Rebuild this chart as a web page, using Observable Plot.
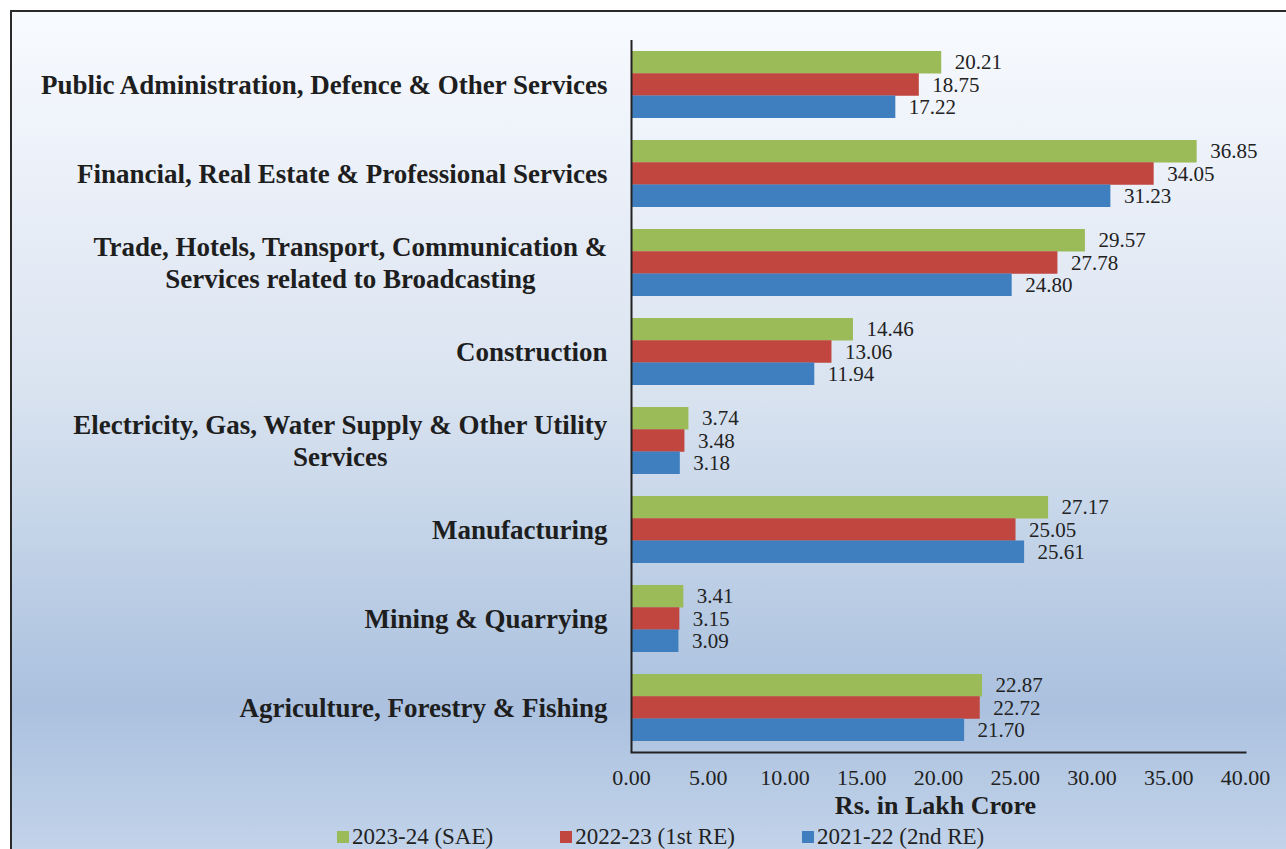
<!DOCTYPE html>
<html>
<head>
<meta charset="utf-8">
<script src="https://cdn.jsdelivr.net/npm/d3@7"></script>
<script src="https://cdn.jsdelivr.net/npm/@observablehq/plot@0.6"></script>
<style>
  html, body { margin: 0; padding: 0; background: #ffffff; }
  #frame {
    position: absolute; left: 10px; top: 10px;
    width: 1280px; height: 845px;
    border-left: 2px solid #2a2a2a; border-top: 2px solid #2a2a2a;
    background: linear-gradient(to bottom, #f8fbfe 0%, #eef2fa 15%, #d9e3f0 45%, #b9cce4 70%, #abc1df 82%, #c3d4ea 100%);
    overflow: hidden;
  }
  #chart svg { display: block; }
  #legend {
    position: absolute; left: 325px; top: 812px;
    font-family: "Liberation Serif", "Times New Roman", serif;
    font-size: 23px; color: #222; display: flex; gap: 67px; align-items: center;
  }
  #legend .item { display: flex; align-items: center; }
  #legend .sw { width: 12px; height: 12px; margin-right: 3px; }
</style>
</head>
<body>
<div id="frame">
  <div id="chart"></div>
  <div id="legend"></div>
</div>
<script>
const sectors = [
  "Public Administration, Defence & Other Services",
  "Financial, Real Estate & Professional Services",
  "Trade, Hotels, Transport, Communication &\nServices related to Broadcasting",
  "Construction",
  "Electricity, Gas, Water Supply & Other Utility\nServices",
  "Manufacturing",
  "Mining & Quarrying",
  "Agriculture, Forestry & Fishing"
];
const seriesNames = ["2023-24 (SAE)", "2022-23 (1st RE)", "2021-22 (2nd RE)"];
const seriesColors = ["#9bbb59", "#c0463f", "#3f7fc0"];
const v2023 = [20.21, 36.85, 29.57, 14.46, 3.74, 27.17, 3.41, 22.87];
const v2022 = [18.75, 34.05, 27.78, 13.06, 3.48, 25.05, 3.15, 22.72];
const v2021 = [17.22, 31.23, 24.80, 11.94, 3.18, 25.61, 3.09, 21.70];
const xTicks = [0, 5, 10, 15, 20, 25, 30, 35, 40];

const seriesValues = [v2023, v2022, v2021];
const rows = seriesValues.map((vals, s) => sectors.map((sector, i) => ({sector, value: vals[i], series: seriesNames[s]})));

const serif = "Liberation Serif, Times New Roman, serif";
const W = 1274, H = 815, mt = 28, mb = 75, ml = 619, mr = 41;
const paddingInner = 0.25, paddingOuter = 0.125;
const step = (H - mt - mb) / (sectors.length - paddingInner + 2 * paddingOuter);
const bw = step * (1 - paddingInner);
const third = bw / 3;

const marks = [];
rows.forEach((data, s) => {
  marks.push(Plot.barX(data, {
    x: "value", y: "sector", fill: seriesColors[s],
    insetTop: s * third, insetBottom: (2 - s) * third
  }));
  marks.push(Plot.text(data, {
    x: "value", y: "sector", text: d => d.value.toFixed(2),
    textAnchor: "start", dx: 13, dy: (s - 1) * third,
    fontSize: 21, fill: "#222", fontFamily: serif
  }));
});

const chart = Plot.plot({
  width: W, height: H,
  marginTop: mt, marginBottom: mb, marginLeft: ml, marginRight: mr,
  style: {background: "transparent", fontFamily: serif, overflow: "visible"},
  x: {domain: [0, 40], ticks: xTicks},
  y: {domain: sectors, paddingInner, paddingOuter},
  marks: [
    ...marks,
    Plot.axisY({tickSize: 0, tickPadding: 24, dy: -1.5, fontSize: 27, fontWeight: "bold", fill: "#1e1e1e", lineHeight: 1.19, label: null, fontFamily: serif}),
    Plot.axisX({ticks: xTicks, tickSize: 0, tickPadding: 17, fontSize: 22, fill: "#222", tickFormat: d => d.toFixed(2), label: null, fontFamily: serif}),
    Plot.text(["Rs. in Lakh Crore"], {frameAnchor: "bottom", dy: 61, dx: -3, fontSize: 26, fontWeight: "bold", fill: "#1e1e1e", fontFamily: serif}),
    Plot.ruleX([0], {stroke: "#222", strokeWidth: 2}),
    Plot.frame({anchor: "bottom", stroke: "#222", strokeWidth: 2})
  ]
});
document.getElementById("chart").appendChild(chart);

// centre multi-line category labels within their block
chart.querySelectorAll("g[aria-label='y-axis tick label'] text").forEach(t => {
  const tspans = t.querySelectorAll("tspan");
  if (tspans.length > 1) {
    const w = t.getBBox().width;
    t.setAttribute("text-anchor", "middle");
    tspans.forEach(ts => ts.setAttribute("x", -w / 2));
  }
});

const legend = document.getElementById("legend");
seriesNames.forEach((name, i) => {
  const item = document.createElement("div");
  item.className = "item";
  const sw = document.createElement("span");
  sw.className = "sw"; sw.style.background = seriesColors[i];
  const tx = document.createElement("span");
  tx.textContent = name;
  item.appendChild(sw); item.appendChild(tx);
  legend.appendChild(item);
});
</script>
</body>
</html>
